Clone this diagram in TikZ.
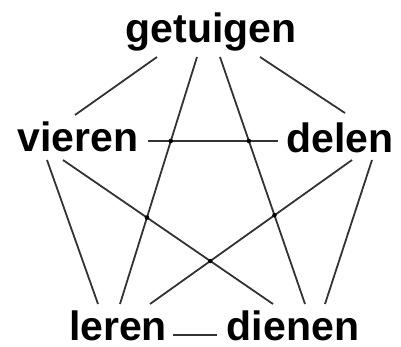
\documentclass[tikz,border=0pt]{standalone}
\usepackage{fontspec}
\setmainfont{Liberation Sans}
\usetikzlibrary{intersections}
\begin{document}
\begin{tikzpicture}[x=1pt,y=-1pt,
  word/.style={anchor=base,inner sep=0pt,font=\fontsize{41}{41}\selectfont\bfseries},
  link/.style={draw=black!80,line width=1.8pt},
  knot/.style={fill=black,circle,inner sep=0pt,minimum size=4.5pt}]
\useasboundingbox (0,0) rectangle (401,347);
\node[word] (g) at (211,43) {getuigen};
\node[word] (v) at (78,152) {vieren};
\node[word] (d) at (340,153) {delen};
\node[word] (l) at (118,340) {leren};
\node[word] (n) at (293,340) {dienen};
% line ends
\coordinate (g1) at (157,57); \coordinate (g2) at (197,57);
\coordinate (g3) at (220,57); \coordinate (g4) at (260,57);
\coordinate (v1) at (75,115); \coordinate (v2) at (148,141);
\coordinate (v3) at (47,160); \coordinate (v4) at (63,160);
\coordinate (d1) at (345,113); \coordinate (d2) at (278,141);
\coordinate (d3) at (352,160); \coordinate (d4) at (372,160);
\coordinate (l1) at (98,304); \coordinate (l2) at (120,304);
\coordinate (l3) at (150,304); \coordinate (l4) at (173,335);
\coordinate (n1) at (273,304); \coordinate (n2) at (305,304);
\coordinate (n3) at (325,304); \coordinate (n4) at (217,335);
\draw[link] (g1) -- (v1);
\draw[link] (g4) -- (d1);
\draw[link] (v3) -- (l1);
\draw[link] (d4) -- (n3);
\draw[link] (l4) -- (n4);
\draw[link,name path=gl] (g2) -- (l2);
\draw[link,name path=gn] (g3) -- (n2);
\draw[link,name path=vd] (v2) -- (d2);
\draw[link,name path=vn] (v4) -- (n1);
\draw[link,name path=dl] (d3) -- (l3);
\path[name intersections={of=gl and vd,by=i1}];
\path[name intersections={of=gn and vd,by=i2}];
\path[name intersections={of=gl and vn,by=i3}];
\path[name intersections={of=gn and dl,by=i4}];
\path[name intersections={of=vn and dl,by=i5}];
\node[knot] (k1) at (i1) {};
\node[knot] (k2) at (i2) {};
\node[knot] (k3) at (i3) {};
\node[knot] (k4) at (i4) {};
\node[knot] (k5) at (i5) {};
\end{tikzpicture}
\end{document}
